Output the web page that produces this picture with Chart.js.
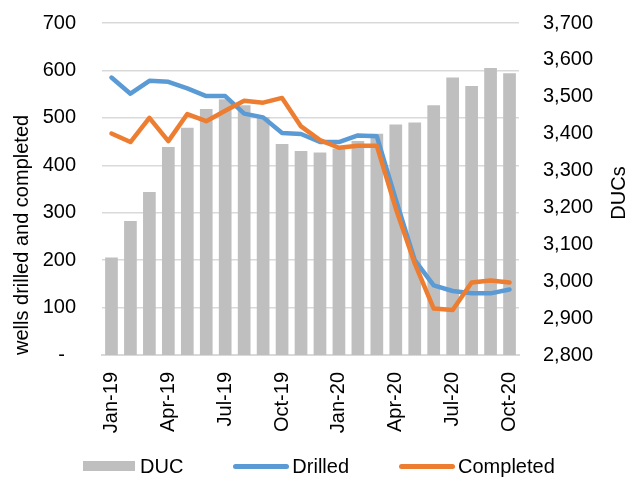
<!DOCTYPE html>
<html>
<head>
<meta charset="utf-8">
<script src="https://cdn.jsdelivr.net/npm/chart.js@4.4.1/dist/chart.umd.min.js"></script>
<style>
  body { margin: 0; background: #fff; }
  #grafico__container { position: relative; width: 627px; height: 477px; }
  .leyenda { position: absolute; left: 83px; top: 453px; display: flex; align-items: center;
    font: 20px "Liberation Sans", Arial, sans-serif; color: #000; line-height: 26px; }
  .leyenda__item { display: flex; align-items: center; margin-right: 50px; }
  .leyenda__caja { width: 52px; height: 10px; margin-right: 5px; }
  .leyenda__linea { width: 56px; height: 5px; border-radius: 3px; margin-right: 3px; }
</style>
</head>
<body>
<div id="grafico__container">
  <canvas id="grafico" width="627" height="477"></canvas>
  <div class="leyenda" id="leyenda"></div>
</div>
<script>
// Datos
const meses = ['Jan-19', 'Feb-19', 'Mar-19', 'Apr-19', 'May-19', 'Jun-19', 'Jul-19', 'Aug-19', 'Sep-19', 'Oct-19', 'Nov-19', 'Dec-19',
    'Jan-20', 'Feb-20', 'Mar-20', 'Apr-20', 'May-20', 'Jun-20', 'Jul-20', 'Aug-20', 'Sep-20', 'Oct-20']
const duc = [3064, 3163, 3242, 3364, 3416, 3467, 3493, 3477, 3445, 3372, 3353, 3349,
    3360, 3380, 3400, 3425, 3430, 3477, 3552, 3529, 3578, 3564]
const perforados = [585, 551, 578, 576, 562, 546, 546, 509, 501, 468, 466, 449,
    449, 463, 461, 328, 200, 147, 135, 130, 130, 138]
const completados = [467, 449, 500, 451, 508, 493, 515, 536, 532, 542, 482, 453,
    437, 441, 441, 309, 193, 98, 95, 153, 157, 153]

const colores = { duc: '#BFBFBF', perforados: '#5B9BD5', completados: '#ED7D31' }

Chart.defaults.font.family = '"Liberation Sans", Arial, sans-serif'
Chart.defaults.font.size = 20
Chart.defaults.color = '#000'

// Titulo del eje derecho (se lee de abajo hacia arriba, como el izquierdo)
const tituloDerecho = {
    id: 'tituloDerecho',
    afterDraw(chart) {
        const escala = chart.scales.y1
        const ctx = chart.ctx
        ctx.save()
        ctx.translate(escala.right - 2, (escala.top + escala.bottom) / 2 + 4)
        ctx.rotate(-Math.PI / 2)
        ctx.font = '20px "Liberation Sans", Arial, sans-serif'
        ctx.fillStyle = '#000'
        ctx.textAlign = 'center'
        ctx.textBaseline = 'alphabetic'
        ctx.fillText('DUCs', 0, 0)
        ctx.restore()
    }
}

// Ancho fijo para los ejes verticales, sin margen extra arriba/abajo
function fijarAncho(ancho) {
    return function(escala) {
        escala.width = ancho
        escala.paddingTop = 0
        escala.paddingBottom = 0
    }
}

function graficoDuc() {
    const contexto = document.querySelector('#grafico').getContext('2d')
    return new Chart(contexto, {
        type: 'bar',
        data: {
            labels: meses,
            datasets: [{
                label: 'DUC',
                data: duc,
                backgroundColor: colores.duc,
                borderWidth: 0,
                barPercentage: 0.67,
                categoryPercentage: 1,
                yAxisID: 'y1',
                order: 3
            }, {
                type: 'line',
                label: 'Drilled',
                data: perforados,
                borderColor: colores.perforados,
                backgroundColor: colores.perforados,
                borderWidth: 4.5,
                borderCapStyle: 'round',
                borderJoinStyle: 'round',
                pointRadius: 0,
                tension: 0,
                yAxisID: 'y',
                order: 2
            }, {
                type: 'line',
                label: 'Completed',
                data: completados,
                borderColor: colores.completados,
                backgroundColor: colores.completados,
                borderWidth: 4.5,
                borderCapStyle: 'round',
                borderJoinStyle: 'round',
                pointRadius: 0,
                tension: 0,
                yAxisID: 'y',
                order: 1
            }]
        },
        options: {
            responsive: false,
            animation: false,
            layout: { padding: { top: 23, left: 0, right: 0, bottom: 0 } },
            plugins: {
                legend: { display: false },
                tooltip: { enabled: false }
            },
            scales: {
                x: {
                    grid: { display: false, drawTicks: false },
                    border: { color: '#D9D9D9', width: 2 },
                    ticks: {
                        autoSkip: false,
                        minRotation: 90,
                        maxRotation: 90,
                        padding: 17,
                        callback: function(value, index) {
                            return index % 3 === 0 ? meses[index] : ''
                        }
                    },
                    afterFit: function(escala) {
                        escala.height = 122
                        escala.paddingLeft = 0
                        escala.paddingRight = 0
                    }
                },
                y: {
                    position: 'left',
                    min: 0,
                    max: 700,
                    grid: { color: '#D9D9D9', lineWidth: 1.5, drawTicks: false },
                    border: { display: false },
                    ticks: {
                        stepSize: 100,
                        padding: 26,
                        callback: function(value) {
                            return value === 0 ? '-  ' : value
                        }
                    },
                    title: {
                        display: true,
                        text: 'wells drilled and completed',
                        align: 'start',
                        padding: { top: 10, bottom: 0 }
                    },
                    afterFit: fijarAncho(102)
                },
                y1: {
                    position: 'right',
                    min: 2800,
                    max: 3700,
                    grid: { display: false, drawTicks: false },
                    border: { display: false },
                    ticks: {
                        stepSize: 100,
                        padding: 24,
                        callback: function(value) {
                            return value.toLocaleString('en-US')
                        }
                    },
                    afterFit: fijarAncho(108)
                }
            }
        },
        plugins: [tituloDerecho]
    })
}

// Leyenda en HTML debajo del grafico
function crearLeyenda(grafico) {
    const contenedor = document.querySelector('#leyenda')
    contenedor.innerHTML = ''
    grafico.data.datasets.forEach(function(dataset) {
        const item = document.createElement('div')
        item.classList.add('leyenda__item')
        const marca = document.createElement('span')
        marca.classList.add(dataset.type === 'line' ? 'leyenda__linea' : 'leyenda__caja')
        marca.style.background = dataset.backgroundColor
        const texto = document.createElement('span')
        texto.textContent = dataset.label
        item.appendChild(marca)
        item.appendChild(texto)
        contenedor.appendChild(item)
    })
}

const grafico = graficoDuc()
crearLeyenda(grafico)
</script>
</body>
</html>
